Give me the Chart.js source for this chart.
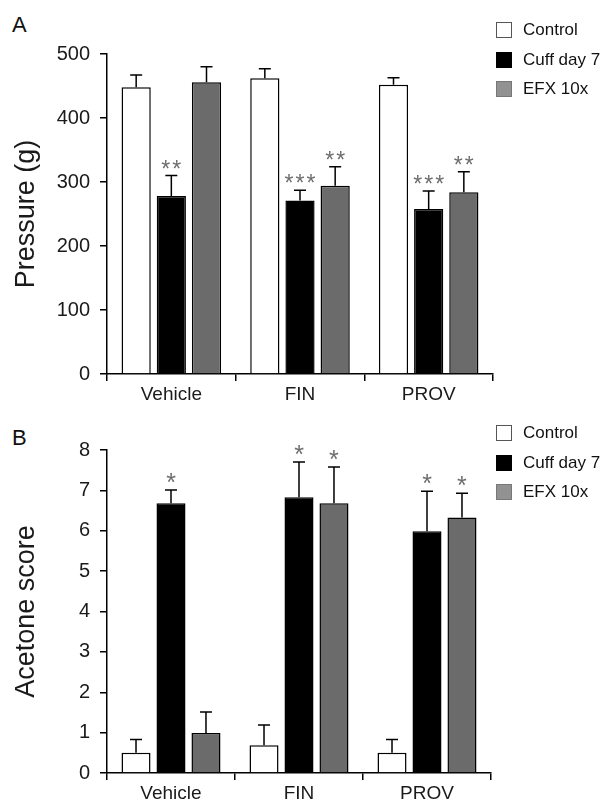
<!DOCTYPE html>
<html>
<head>
<meta charset="utf-8">
<script src="https://cdn.jsdelivr.net/npm/chart.js@4.4.1/dist/chart.umd.min.js"></script>
<style>
  body { margin: 0; background: #fff; font-family: "Liberation Sans", Arial, sans-serif; }
  #wrap { position: relative; width: 615px; height: 806px; overflow: hidden; }
  canvas { position: absolute; left: 0; }
  .letter { position: absolute; left: 12px; font-size: 22px; color: #111; line-height: 1; }
  .legend { position: absolute; left: 496px; }
  .item { position: absolute; left: 0; white-space: nowrap; font-size: 17px; color: #111; line-height: 18px; height: 18px; }
  .box { display: inline-block; width: 16px; height: 16px; box-sizing: border-box; border: 1px solid #555; vertical-align: -3px; margin-right: 11px; }
</style>
</head>
<body>
<div id="wrap">
  <div class="letter" style="top:14px">A</div>
  <div class="letter" style="top:427px">B</div>
  <canvas id="chartA" width="615" height="410" style="top:0"></canvas>
  <canvas id="chartB" width="615" height="396" style="top:410px"></canvas>
  <div class="legend" id="legendA" style="top:21px"></div>
  <div class="legend" id="legendB" style="top:424px"></div>
</div>
<script>
const grupos = ['Vehicle', 'FIN', 'PROV'];
const series = ['Control', 'Cuff day 7', 'EFX 10x'];

// Panel A: presion (g), media y error
const presionControl = [448, 462, 452];
const presionCuff = [278, 271, 258];
const presionEfx = [456, 294, 284];
const presionControlErr = [19, 15, 11];
const presionCuffErr = [32, 16, 28];
const presionEfxErr = [24, 30, 32];
const presionEstrellasCuff = ['**', '***', '***'];
const presionEstrellasEfx = ['', '**', '**'];

// Panel B: acetone score
const acetonaControl = [0.5, 0.69, 0.5];
const acetonaCuff = [6.68, 6.83, 5.99];
const acetonaEfx = [0.99, 6.68, 6.33];
const acetonaControlErr = [0.33, 0.5, 0.33];
const acetonaCuffErr = [0.33, 0.87, 0.99];
const acetonaEfxErr = [0.52, 0.9, 0.6];
const acetonaEstrellasCuff = ['*', '*', '*'];
const acetonaEstrellasEfx = ['', '*', '*'];

const coloresBarra = ['#ffffff', '#000000', '#6b6b6b'];
const coloresLeyenda = ['#ffffff', '#000000', '#929292'];
const fuente = '"Liberation Sans", Arial, sans-serif';

// barras de error hacia arriba + asteriscos
const errorBars = {
    id: 'errorBars',
    afterDatasetsDraw(chart) {
        const ctx = chart.ctx;
        const yScale = chart.scales.y;
        chart.data.datasets.forEach((ds, i) => {
            const meta = chart.getDatasetMeta(i);
            meta.data.forEach((bar, j) => {
                const top = yScale.getPixelForValue(ds.data[j] + ds.errores[j]);
                ctx.save();
                ctx.strokeStyle = '#000';
                ctx.lineWidth = 1.5;
                ctx.beginPath();
                ctx.moveTo(bar.x, bar.y);
                ctx.lineTo(bar.x, top);
                ctx.moveTo(bar.x - 6, top);
                ctx.lineTo(bar.x + 6, top);
                ctx.stroke();
                const s = ds.estrellas ? ds.estrellas[j] : '';
                if (s) {
                    ctx.fillStyle = '#6e6e6e';
                    ctx.font = (s.length === 1 ? 25 : 23) + 'px ' + fuente;
                    ctx.textAlign = 'center';
                    ctx.textBaseline = 'alphabetic';
                    const paso = 11;
                    const x0 = bar.x - paso * (s.length - 1) / 2;
                    for (let k = 0; k < s.length; k++) {
                        ctx.fillText('*', x0 + k * paso, top + 1);
                    }
                }
                ctx.restore();
            });
        });
    }
};

function crearGrafico(id, datos, errores, estrellas, yMax, yTitulo, padding) {
    const ctx = document.getElementById(id).getContext('2d');
    return new Chart(ctx, {
        type: 'bar',
        data: {
            labels: grupos,
            datasets: series.map((nombre, i) => ({
                label: nombre,
                data: datos[i],
                errores: errores[i],
                estrellas: estrellas[i],
                backgroundColor: coloresBarra[i],
                borderColor: '#000',
                borderWidth: 1.5,
                categoryPercentage: 0.82,
                barPercentage: 0.83
            }))
        },
        options: {
            responsive: false,
            animation: false,
            devicePixelRatio: 1,
            layout: { padding },
            plugins: { legend: { display: false }, tooltip: { enabled: false } },
            scales: {
                x: {
                    grid: { display: true, drawOnChartArea: false, drawTicks: true, tickLength: 7, color: '#000', lineWidth: 1.5, offset: true },
                    border: { display: true, color: '#000', width: 1.5 },
                    ticks: { color: '#1a1a1a', font: { size: 19, family: fuente }, padding: 2 },
                    afterFit: s => { s.height = 33; }
                },
                y: {
                    min: 0,
                    max: yMax,
                    ticks: { stepSize: yMax / (yMax === 8 ? 8 : 5), color: '#1a1a1a', font: { size: 20, family: fuente }, padding: 10 },
                    grid: { drawOnChartArea: false, drawTicks: true, tickLength: 7, color: '#000', lineWidth: 1.5 },
                    border: { display: true, color: '#000', width: 1.5 },
                    title: { display: true, text: yTitulo, color: '#1a1a1a', font: { size: 27, family: fuente }, padding: { top: 10, bottom: 0 } },
                    afterFit: s => { s.width = 107; }
                }
            }
        },
        plugins: [errorBars]
    });
}

function leyenda(id) {
    const cont = document.getElementById(id);
    series.forEach((nombre, i) => {
        const item = document.createElement('div');
        item.className = 'item';
        item.style.top = (i * 29.5) + 'px';
        const box = document.createElement('span');
        box.className = 'box';
        box.style.background = coloresLeyenda[i];
        if (i > 0) box.style.borderColor = coloresLeyenda[i] === '#000000' ? '#000' : '#777';
        item.appendChild(box);
        item.appendChild(document.createTextNode(nombre));
        cont.appendChild(item);
    });
}

crearGrafico('chartA',
    [presionControl, presionCuff, presionEfx],
    [presionControlErr, presionCuffErr, presionEfxErr],
    [null, presionEstrellasCuff, presionEstrellasEfx],
    500, 'Pressure (g)', { left: 0, right: 122, top: 54, bottom: 3 });

crearGrafico('chartB',
    [acetonaControl, acetonaCuff, acetonaEfx],
    [acetonaControlErr, acetonaCuffErr, acetonaEfxErr],
    [null, acetonaEstrellasCuff, acetonaEstrellasEfx],
    8, 'Acetone score', { left: 0, right: 124, top: 40, bottom: 0 });

leyenda('legendA');
leyenda('legendB');
</script>
</body>
</html>
